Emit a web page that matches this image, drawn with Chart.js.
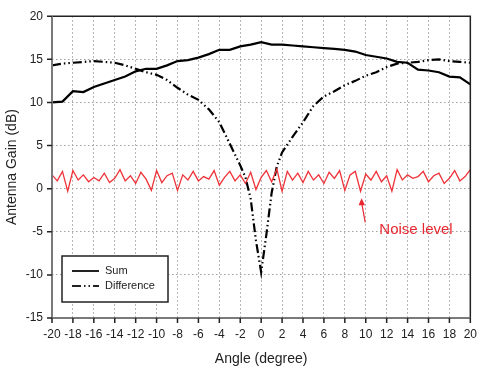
<!DOCTYPE html>
<html><head><meta charset="utf-8">
<script src="https://cdn.jsdelivr.net/npm/chart.js@4/dist/chart.umd.min.js"></script>
<style>html,body{margin:0;padding:0;background:#fff}#wrap{width:486px;height:368px}</style>
</head><body><div id="wrap"><canvas id="c" width="486" height="368"></canvas></div>
<script>
const sumAngles = [-20,-19,-18,-17,-16,-15,-14,-13,-12,-11,-10,-9,-8,-7,-6,-5,-4,-3,-2,-1,0,1,2,3,4,5,6,7,8,9,10,11,12,13,14,15,16,17,18,19,20];
const sumGain = [10.0,10.1,11.3,11.2,11.8,12.2,12.6,13.0,13.6,13.9,13.9,14.3,14.8,14.9,15.2,15.6,16.1,16.1,16.5,16.7,17.0,16.7,16.7,16.6,16.5,16.4,16.3,16.2,16.1,15.9,15.5,15.3,15.1,14.7,14.6,13.8,13.7,13.5,13.0,12.9,12.1];
const diffAngles = [-20,-19,-18,-17,-16,-15,-14,-13,-12,-11,-10,-9,-8,-7,-6,-5,-4,-3,-2,-1.5,-1,-0.5,0,0.5,1,1.5,2,3,4,5,6,7,8,9,10,11,12,13,14,15,16,17,18,19,20];
const diffGain = [14.3,14.5,14.6,14.7,14.8,14.7,14.6,14.3,13.9,13.5,13.2,12.6,11.7,10.9,10.3,9.2,7.7,5.2,2.7,1.3,-1.2,-6.0,-9.7,-5.3,-0.5,2.6,4.2,6.0,7.7,9.6,10.7,11.3,12.0,12.5,13.1,13.5,14.1,14.5,14.6,14.7,14.9,15.0,14.8,14.7,14.6];
const noiseAngles = [-20,-19.5,-19,-18.5,-18,-17.5,-17,-16.5,-16,-15.5,-15,-14.5,-14,-13.5,-13,-12.5,-12,-11.5,-11,-10.5,-10,-9.5,-9,-8.5,-8,-7.5,-7,-6.5,-6,-5.5,-5,-4.5,-4,-3.5,-3,-2.5,-2,-1.5,-1,-0.5,0,0.5,1,1.5,2,2.5,3,3.5,4,4.5,5,5.5,6,6.5,7,7.5,8,8.5,9,9.5,10,10.5,11,11.5,12,12.5,13,13.5,14,14.5,15,15.5,16,16.5,17,17.5,18,18.5,19,19.5,20];
const noiseGain = [1.6,0.9,2.0,-0.3,2.1,1.0,1.6,0.8,1.3,0.9,1.8,0.7,1.2,2.2,0.9,1.5,0.6,1.9,1.1,-0.2,2.1,0.7,1.5,1.8,-0.2,1.6,1.0,2.0,0.9,1.4,1.1,2.1,0.4,1.3,2.0,0.9,1.6,0.6,1.9,-0.1,1.3,2.1,0.8,2.3,-0.3,2.0,1.0,1.8,0.7,2.0,1.0,1.6,0.6,1.9,1.2,2.1,-0.2,1.6,2.0,-0.3,1.7,1.0,2.0,0.8,1.5,-0.3,2.2,1.0,1.6,1.2,1.4,2.0,0.8,1.5,1.8,0.6,1.2,2.1,0.9,1.4,2.2];
const xTicks = [-20,-18,-16,-14,-12,-10,-8,-6,-4,-2,0,2,4,6,8,10,12,14,16,18,20];
const yTicks = [-15,-10,-5,0,5,10,15,20];
const seriesNames = ['Sum','Difference','Noise level'];

const pts = (xs, ys) => xs.map((x, i) => ({x, y: ys[i]}));
const FONT = '"Liberation Sans", Arial, sans-serif';
const diffDash = [9,3,1.5,3,1.5,3];
const gridDash = [1.5, 2.5];

const decor = {
  id: 'decor',
  afterDraw(chart) {
    const {ctx, chartArea: a, scales: {x, y}} = chart;
    ctx.save();
    ctx.lineWidth = 1.5;
    ctx.strokeStyle = '#222';
    ctx.beginPath();
    ctx.moveTo(a.left, a.top); ctx.lineTo(a.right, a.top); ctx.lineTo(a.right, a.bottom);
    ctx.stroke();
    ctx.strokeStyle = '#7a7a7a';
    ctx.lineWidth = 2;
    ctx.beginPath();
    ctx.moveTo(a.left, a.top); ctx.lineTo(a.left, a.bottom); ctx.lineTo(a.right, a.bottom);
    ctx.stroke();
    ctx.strokeStyle = '#222';
    ctx.lineWidth = 1.5;
    ctx.beginPath();
    xTicks.forEach(v => { const px = x.getPixelForValue(v); ctx.moveTo(px, a.bottom); ctx.lineTo(px, a.bottom + 5); });
    yTicks.forEach(v => { const py = y.getPixelForValue(v); ctx.moveTo(a.left, py); ctx.lineTo(a.left - 5, py); });
    ctx.stroke();
    // legend
    ctx.fillStyle = '#fff';
    ctx.fillRect(62, 256, 106, 46);
    ctx.strokeStyle = '#222';
    ctx.lineWidth = 1.5;
    ctx.strokeRect(62, 256, 106, 46);
    ctx.lineWidth = 2;
    ctx.beginPath(); ctx.moveTo(72, 271); ctx.lineTo(99, 271); ctx.stroke();
    ctx.setLineDash(diffDash);
    ctx.beginPath(); ctx.moveTo(72, 286); ctx.lineTo(99, 286); ctx.stroke();
    ctx.setLineDash([]);
    ctx.fillStyle = '#222';
    ctx.font = '11px ' + FONT;
    ctx.textBaseline = 'middle';
    ctx.textAlign = 'left';
    ctx.fillText(seriesNames[0], 105, 271);
    ctx.fillText(seriesNames[1], 105, 286);
    // noise annotation
    const red = 'rgb(232,40,48)';
    ctx.strokeStyle = red; ctx.fillStyle = red; ctx.lineWidth = 1.2;
    const x0 = x.getPixelForValue(9.95), y0 = y.getPixelForValue(-3.9);
    const x1 = x.getPixelForValue(9.6), y1 = y.getPixelForValue(-1.1);
    ctx.beginPath(); ctx.moveTo(x0, y0); ctx.lineTo(x1, y1 + 4); ctx.stroke();
    ctx.beginPath(); ctx.moveTo(x1, y1); ctx.lineTo(x1 - 3, y1 + 7); ctx.lineTo(x1 + 3.5, y1 + 7); ctx.closePath(); ctx.fill();
    ctx.font = '15px ' + FONT;
    ctx.fillText(seriesNames[2], x.getPixelForValue(11.3), y.getPixelForValue(-4.8));
    ctx.restore();
  }
};

new Chart(document.getElementById('c'), {
  type: 'line',
  data: {
    datasets: [
      {label: seriesNames[2], data: pts(noiseAngles, noiseGain), borderColor: 'rgb(238,50,56)', borderWidth: 1.3, pointRadius: 0, tension: 0},
      {label: seriesNames[0], data: pts(sumAngles, sumGain), borderColor: '#000', borderWidth: 2.2, pointRadius: 0, tension: 0},
      {label: seriesNames[1], data: pts(diffAngles, diffGain), borderColor: '#000', borderWidth: 2.2, borderDash: diffDash, pointRadius: 0, tension: 0}
    ]
  },
  options: {
    responsive: false, animation: false,
    layout: {padding: {top: 9, right: 7, left: 0, bottom: 0}},
    plugins: {legend: {display: false}, tooltip: {enabled: false}},
    scales: {
      x: {
        type: 'linear', min: -20, max: 20,
        afterBuildTicks: s => { s.ticks = xTicks.map(v => ({value: v})); },
        afterFit: s => { s.height = 50; },
        border: {display: false, dash: gridDash},
        grid: {color: '#a0a0a0', lineWidth: 1, drawTicks: false},
        ticks: {color: '#222', font: {family: FONT, size: 12}, padding: 9, maxRotation: 0, autoSkip: false},
        title: {display: true, text: 'Angle (degree)', color: '#222', font: {family: FONT, size: 14}, padding: {top: 4, bottom: 0}}
      },
      y: {
        min: -15, max: 20,
        afterBuildTicks: s => { s.ticks = yTicks.map(v => ({value: v})); },
        afterFit: s => { s.width = 52; },
        border: {display: false, dash: gridDash},
        grid: {color: '#a0a0a0', lineWidth: 1, drawTicks: false},
        ticks: {color: '#222', font: {family: FONT, size: 12}, padding: 9},
        title: {display: true, text: 'Antenna Gain (dB)', color: '#222', font: {family: FONT, size: 14}, padding: {bottom: 0}}
      }
    }
  },
  plugins: [decor]
});
</script></body></html>
